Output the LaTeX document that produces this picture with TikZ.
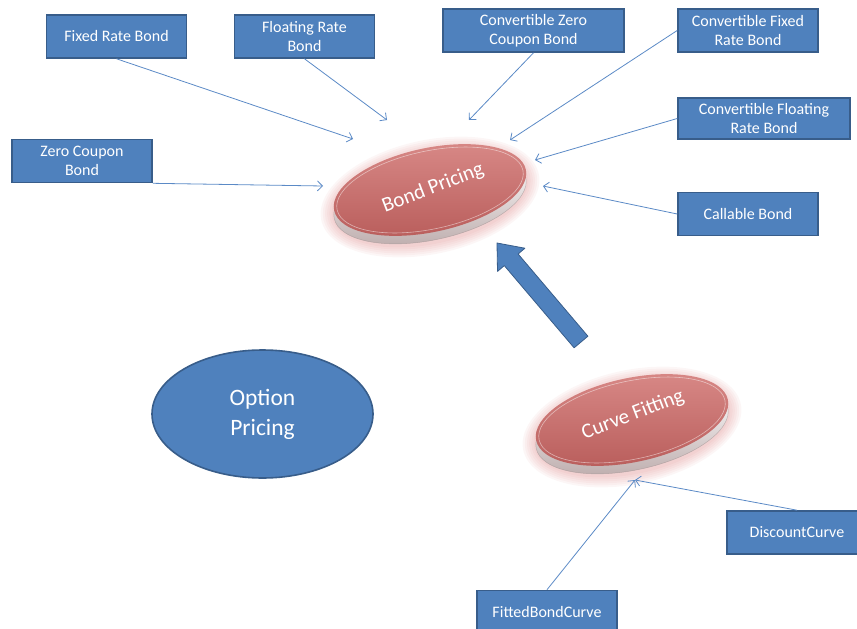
\documentclass[tikz,border=0pt]{standalone}
\usepackage{fontspec}
\setmainfont{Carlito}
\usetikzlibrary{arrows.meta,calc,positioning,shapes.geometric}
\definecolor{boxfill}{HTML}{4F81BD}
\definecolor{boxedge}{HTML}{385D8A}
\definecolor{linkblue}{HTML}{5B8AC6}
\definecolor{disctop}{HTML}{D68684}
\definecolor{discbot}{HTML}{B85C5A}
\definecolor{glowred}{HTML}{D46A6A}
\definecolor{rimgray}{HTML}{BBAAAA}

\begin{document}
\begin{tikzpicture}[x=1pt,y=-1pt,>={Straight Barb[length=5pt,width=10pt]},
  bondbox/.style={draw=boxedge,fill=boxfill,line width=1.6pt,text=white,
    font=\fontsize{16}{18.5}\selectfont,align=center,
    minimum width=140pt,minimum height=43pt,inner sep=0pt},
  link/.style={->,linkblue,line width=0.8pt},
  disctext/.style={text=white,font=\fontsize{21}{24}\selectfont,rotate=21}]
  \useasboundingbox (0,0) rectangle (857,629);

  % bond types
  \node[bondbox] (fixed) at (116.5,36.5) {Fixed Rate Bond};
  \node[bondbox] (floating) at (304.5,36.5) {Floating Rate\\Bond};
  \node[bondbox] (zero) at (82,161) {Zero Coupon\\Bond};
  \node[bondbox,minimum width=181pt] (convzero) at (533.5,30.5) {Convertible Zero\\Coupon Bond};
  \node[bondbox] (convfixed) at (748,30.5) {Convertible Fixed\\Rate Bond};
  \node[bondbox,minimum width=172pt,minimum height=41pt] (convfloat) at (764,118.5) {Convertible Floating\\Rate Bond};
  \node[bondbox] (callable) at (748,214) {Callable Bond};
  \node[bondbox] (discount) at (797,532.5) {DiscountCurve};
  \node[bondbox] (fitted) at (547,612) {FittedBondCurve};

  \node[ellipse,draw=boxedge,fill=boxfill,line width=1.6pt,minimum width=221pt,
    minimum height=128pt,text=white,font=\fontsize{23.5}{30}\selectfont,align=center]
    (option) at (262.5,414) {Option\\Pricing};

  % bond pricing disc
  \foreach \k in {1,...,6}
    \fill[glowred,opacity=0.06,rotate around={12:(430,197)}] (430,197) ellipse ({98+2.2*\k} and {45+2*\k});
  \shade[rotate around={12:(430,198)},top color=white,bottom color=rimgray] (430,198) ellipse (98 and 42);
  \draw[rotate around={12:(430,198)},rimgray!80!black,opacity=0.5,line width=0.5pt] (430,198) ellipse (98 and 42);
  \shade[rotate around={12:(430,190)},top color=disctop,bottom color=discbot] (430,190) ellipse (98 and 42);
  \draw[rotate around={12:(430,190)},white,opacity=0.5,line width=0.6pt] (430,190) ellipse (95 and 39);
  \node[disctext] (bond) at (433,188) {Bond Pricing};

  % curve fitting disc
  \foreach \k in {1,...,6}
    \fill[glowred,opacity=0.06,rotate around={12:(632,427)}] (632,427) ellipse ({98+2.2*\k} and {45+2*\k});
  \shade[rotate around={12:(632,428)},top color=white,bottom color=rimgray] (632,428) ellipse (98 and 42);
  \draw[rotate around={12:(632,428)},rimgray!80!black,opacity=0.5,line width=0.5pt] (632,428) ellipse (98 and 42);
  \shade[rotate around={12:(632,420)},top color=disctop,bottom color=discbot] (632,420) ellipse (98 and 42);
  \draw[rotate around={12:(632,420)},white,opacity=0.5,line width=0.6pt] (632,420) ellipse (95 and 39);
  \node[disctext] (curve) at (633,415) {Curve Fitting};

  % big arrow from curve fitting up to bond pricing
  \filldraw[fill=boxfill,draw=boxedge,line width=0.8pt,line join=round]
    (497,243) -- (524.9,248.2) -- (518.1,254) -- (587.9,336.2) -- (574.1,347.8)
    -- (504.3,265.6) -- (497.5,271.4) -- cycle;

  % arrow tips near the discs
  \coordinate (bfixed) at (353,139);
  \coordinate (bfloating) at (387,120);
  \coordinate (bzero) at (323,186);
  \coordinate (bconvzero) at (469,120);
  \coordinate (bconvfixed) at (510,140);
  \coordinate (bconvfloat) at (535,160);
  \coordinate (bcallable) at (543,186);
  \coordinate (cfit) at (635,480);

  \draw[link] (fixed.south) -- (bfixed);
  \draw[link] (floating.south) -- (bfloating);
  \draw[link] (zero.south east) -- (bzero);
  \draw[link] (convzero.south) -- (bconvzero);
  \draw[link] (convfixed.west) -- (bconvfixed);
  \draw[link] (convfloat.west) -- (bconvfloat);
  \draw[link] (callable.west) -- (bcallable);
  \draw[link] (discount.north) -- (cfit);
  \draw[link] (fitted.north) -- (cfit);
\end{tikzpicture}
\end{document}
